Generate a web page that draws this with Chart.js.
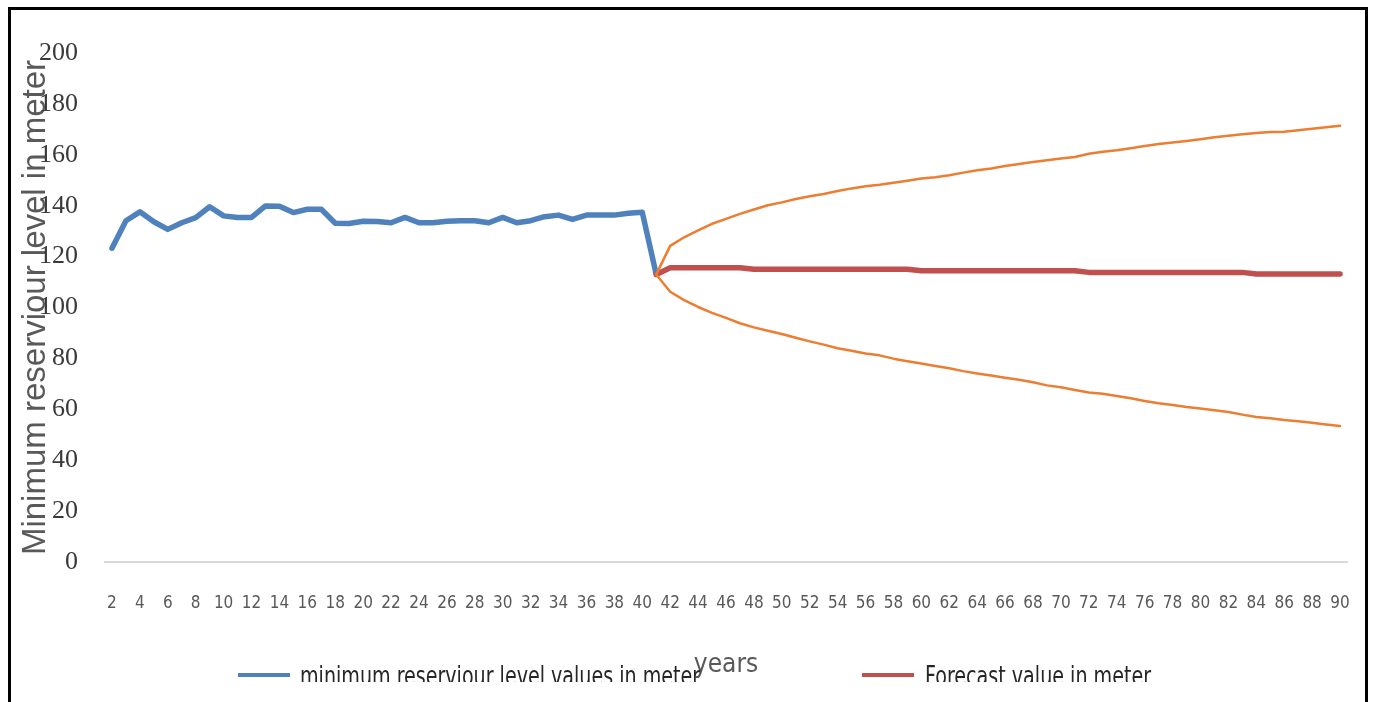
<!DOCTYPE html>
<html>
<head>
<meta charset="utf-8">
<title>Minimum reservoir level and forecast</title>
<script src="https://cdn.jsdelivr.net/npm/chart.js@4.4.1/dist/chart.umd.min.js"></script>
<style>
  body { margin: 0; background: #fff; }
  #frame { position: absolute; left: 8px; top: 7px; width: 1354px; height: 720px; border: 3px solid #000; }
  #clip { position: absolute; left: 0; top: 0; width: 1354px; height: 672px; overflow: hidden; }
  #chart { position: absolute; left: 0; top: 0; }
  .item { position: absolute; top: 653px; font: 26px "Liberation Sans Narrow", "DejaVu Sans Condensed", "Liberation Sans", sans-serif; line-height: 26px; color: #262626; white-space: nowrap; transform-origin: 0 50%; }
  .swatch { position: absolute; top: 663px; width: 52px; height: 4px; }
</style>
</head>
<body>
<div id="frame">
  <div id="clip">
    <canvas id="chart" width="1354" height="672"></canvas>
    <div id="legend"></div>
  </div>
</div>
<script>
// years on the x axis (2 .. 90)
const years = [];
for (let y = 2; y <= 90; y++) years.push(String(y));

// observed minimum level, years 2 .. 41
const observed = [
  123.3, 134.1, 137.6, 133.7, 130.7, 133.3, 135.3, 139.6, 136.0, 135.4,
  135.4, 139.9, 139.8, 137.3, 138.6, 138.6, 133.1, 133.0, 133.9, 133.8,
  133.3, 135.4, 133.3, 133.3, 133.9, 134.1, 134.1, 133.3, 135.4, 133.3,
  134.1, 135.7, 136.3, 134.6, 136.3, 136.3, 136.3, 137.0, 137.4, 113.0
];

// forecast, years 41 .. 90
const forecast = [
  113.0, 115.6, 115.6, 115.6, 115.6, 115.6, 115.6, 115.0, 115.0, 115.0,
  115.0, 115.0, 115.0, 115.0, 115.0, 115.0, 115.0, 115.0, 115.0, 114.4,
  114.4, 114.4, 114.4, 114.4, 114.4, 114.4, 114.4, 114.4, 114.4, 114.4,
  114.4, 113.8, 113.8, 113.8, 113.8, 113.8, 113.8, 113.8, 113.8, 113.8,
  113.8, 113.8, 113.8, 113.2, 113.2, 113.2, 113.2, 113.2, 113.2, 113.2
];

// upper confidence bound, years 41 .. 90
const upperBound = [
  113.0, 124.2, 127.6, 130.3, 132.9, 134.8, 136.8, 138.5, 140.2, 141.3,
  142.6, 143.7, 144.6, 145.8, 146.8, 147.6, 148.2, 149.0, 149.8, 150.7,
  151.2, 152.0, 153.0, 153.9, 154.6, 155.6, 156.4, 157.2, 157.9, 158.5,
  159.1, 160.4, 161.2, 161.8, 162.6, 163.5, 164.2, 164.8, 165.4, 166.1,
  166.9, 167.5, 168.1, 168.6, 169.0, 169.1, 169.6, 170.2, 170.8, 171.4
];

// lower confidence bound, years 41 .. 90
const lowerBound = [
  113.0, 106.2, 102.9, 100.2, 97.9, 95.9, 93.8, 92.2, 90.9, 89.6,
  88.1, 86.7, 85.4, 84.0, 83.0, 81.9, 81.2, 79.9, 78.9, 78.0,
  77.0, 76.1, 75.0, 74.1, 73.3, 72.4, 71.6, 70.6, 69.4, 68.7,
  67.6, 66.6, 66.1, 65.2, 64.3, 63.3, 62.4, 61.7, 60.9, 60.3,
  59.6, 58.9, 57.9, 57.0, 56.5, 55.8, 55.3, 54.7, 54.0, 53.4
];

const seriesNames = ['minimum reserviour level values in meter', 'Forecast value in meter'];
const yTitle = 'Minimum reserviour level in meter';
const xTitle = 'years';

const blue = '#4F81BD';
const red = '#C0504D';
const orange = '#ED7D31';
const narrow = '"Liberation Sans Narrow", "DejaVu Sans Condensed", "Liberation Sans", sans-serif';

// line up the forecast part with year 41
const lead = new Array(years.indexOf('41')).fill(null);
const tail = new Array(years.length - observed.length).fill(null);

const chart = new Chart(document.getElementById('chart'), {
    type: 'line',
    data: {
        labels: years,
        datasets: [
            { label: seriesNames[0], data: observed.concat(tail), borderColor: blue, backgroundColor: blue, borderWidth: 5.5, order: 3 },
            { label: seriesNames[1], data: lead.concat(forecast), borderColor: red, backgroundColor: red, borderWidth: 5.5, order: 2 },
            { label: 'upper', data: lead.concat(upperBound), borderColor: orange, backgroundColor: orange, borderWidth: 2.5, order: 1 },
            { label: 'lower', data: lead.concat(lowerBound), borderColor: orange, backgroundColor: orange, borderWidth: 2.5, order: 1 }
        ]
    },
    options: {
        responsive: false,
        devicePixelRatio: 1,
        animation: false,
        layout: { padding: { left: 0, right: 18, top: 43, bottom: 0 } },
        elements: {
            point: { radius: 0, hoverRadius: 0 },
            line: { tension: 0, borderJoinStyle: 'round', borderCapStyle: 'round' }
        },
        plugins: {
            legend: { display: false },
            tooltip: { enabled: false }
        },
        scales: {
            x: {
                offset: true,
                grid: { display: false, drawTicks: false },
                border: { display: true, color: '#d9d9d9', width: 2 },
                afterFit: function(scale) {
                    // the tick padding pushes labels down only, not sideways
                    scale.height = 120;
                    scale.paddingLeft = 0;
                    scale.paddingRight = 0;
                },
                ticks: {
                    autoSkip: false,
                    maxRotation: 0,
                    padding: 31,
                    color: '#595959',
                    font: { family: narrow, size: 17 },
                    callback: function(value, index) {
                        return index % 2 === 0 ? years[index] : '';
                    }
                },
                title: {
                    display: true,
                    text: xTitle,
                    color: '#595959',
                    font: { family: narrow, size: 26 },
                    padding: { top: 0, bottom: 1 }
                }
            },
            y: {
                min: 0,
                max: 200,
                grid: { display: false, drawTicks: false },
                border: { display: false },
                afterFit: function(scale) { scale.width = 94; },
                ticks: {
                    stepSize: 20,
                    padding: 27,
                    color: '#3a3a3a',
                    font: { family: '"Liberation Serif", "DejaVu Serif", serif', size: 26 }
                },
                title: {
                    display: true,
                    text: yTitle,
                    color: '#595959',
                    font: { family: '"Liberation Sans", Arial, sans-serif', size: 33 },
                    padding: { top: 5, bottom: 0 }
                }
            }
        }
    }
});

// legend for the two named series, text squeezed to the condensed look of the original
const legend = document.getElementById('legend');
const legendPos = [ { swatch: 227, text: 289, width: 400 }, { swatch: 851, text: 914, width: 226 } ];
chart.data.datasets.slice(0, 2).forEach(function(ds, i) {
    const sw = document.createElement('div');
    sw.className = 'swatch';
    sw.style.left = legendPos[i].swatch + 'px';
    sw.style.background = ds.borderColor;
    legend.appendChild(sw);
    const tx = document.createElement('div');
    tx.className = 'item';
    tx.style.left = legendPos[i].text + 'px';
    tx.textContent = ds.label;
    legend.appendChild(tx);
    const w = tx.getBoundingClientRect().width;
    if (w > 0) tx.style.transform = 'scaleX(' + (legendPos[i].width / w).toFixed(3) + ')';
});
</script>
</body>
</html>
